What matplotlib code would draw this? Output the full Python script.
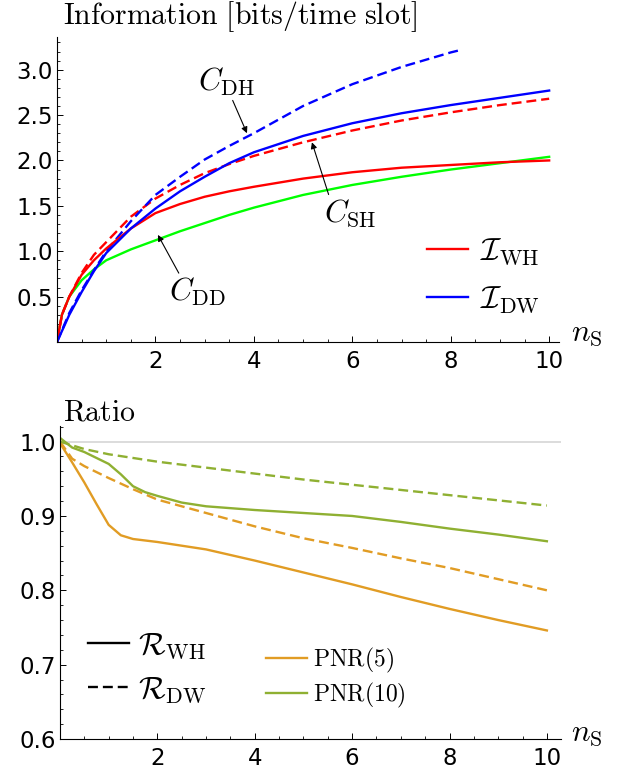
import matplotlib
matplotlib.use("Agg")
import matplotlib.pyplot as plt
from matplotlib.lines import Line2D
from matplotlib.ticker import MultipleLocator, FixedLocator

plt.rcParams['mathtext.fontset'] = 'cm'

# ---------------- data: top panel ----------------
x_cdh = [0, 0.25, 0.5, 0.75, 1, 1.5, 2, 2.5, 3, 3.5, 4, 5, 6, 7, 8, 8.15]
y_cdh = [0, 0.32, 0.57, 0.79, 1.0, 1.33, 1.62, 1.82, 2.01, 2.16, 2.30, 2.60, 2.84, 3.03, 3.19, 3.21]

x_idw = [0, 0.25, 0.5, 0.75, 1, 1.5, 2, 2.5, 3, 3.5, 4, 5, 6, 7, 8, 9, 10]
y_idw = [0, 0.30, 0.55, 0.78, 0.98, 1.25, 1.47, 1.66, 1.82, 1.97, 2.09, 2.27, 2.41, 2.52, 2.61, 2.69, 2.77]

x_csh = [0, 0.1, 0.25, 0.5, 0.75, 1, 1.5, 2, 2.5, 3, 3.5, 4, 5, 6, 7, 8, 9, 10]
y_csh = [0, 0.30, 0.50, 0.76, 0.96, 1.10, 1.38, 1.58, 1.73, 1.86, 1.96, 2.05, 2.20, 2.33, 2.44, 2.53, 2.61, 2.68]

x_iwh = [0, 0.1, 0.25, 0.5, 0.75, 1, 1.5, 2, 2.5, 3, 3.5, 4, 5, 6, 7, 8, 9, 10]
y_iwh = [0, 0.30, 0.50, 0.74, 0.90, 1.03, 1.25, 1.42, 1.52, 1.60, 1.66, 1.71, 1.80, 1.87, 1.92, 1.95, 1.98, 2.00]

x_cdd = [0, 0.1, 0.25, 0.5, 0.75, 1, 1.5, 2, 2.5, 3, 3.5, 4, 5, 6, 7, 8, 9, 10]
y_cdd = [0, 0.30, 0.50, 0.68, 0.80, 0.90, 1.02, 1.12, 1.22, 1.31, 1.40, 1.48, 1.62, 1.73, 1.82, 1.90, 1.97, 2.04]

# ---------------- data: bottom panel ----------------
x_p5_wh = [0, 0.25, 0.5, 0.75, 1, 1.25, 1.5, 2, 3, 4, 5, 6, 7, 8, 9, 10]
y_p5_wh = [0.998, 0.972, 0.945, 0.916, 0.888, 0.874, 0.869, 0.865, 0.855, 0.840, 0.824, 0.808, 0.791, 0.775, 0.760, 0.746]

x_p5_dw = [0, 0.25, 0.5, 1, 1.5, 2, 3, 4, 5, 6, 7, 8, 9, 10]
y_p5_dw = [1.0, 0.977, 0.967, 0.951, 0.936, 0.922, 0.904, 0.886, 0.870, 0.857, 0.843, 0.830, 0.815, 0.800]

x_p10_wh = [0, 0.25, 0.5, 0.75, 1, 1.25, 1.5, 1.75, 2, 2.5, 3, 4, 5, 6, 7, 8, 9, 10]
y_p10_wh = [1.005, 0.992, 0.986, 0.978, 0.970, 0.956, 0.940, 0.932, 0.927, 0.918, 0.913, 0.908, 0.904, 0.900, 0.892, 0.883, 0.875, 0.866]

x_p10_dw = [0, 0.5, 1, 2, 3, 4, 5, 6, 7, 8, 9, 10]
y_p10_dw = [1.0, 0.990, 0.983, 0.973, 0.965, 0.957, 0.949, 0.942, 0.935, 0.928, 0.921, 0.914]

top_xticks = [2, 4, 6, 8, 10]
top_yticks = [0.5, 1.0, 1.5, 2.0, 2.5, 3.0]
bot_xticks = [2, 4, 6, 8, 10]
bot_yticks = [0.6, 0.7, 0.8, 0.9, 1.0]

ORANGE = '#E19C24'
GREEN = '#8FB032'
W, H = 618, 772
LW = 1.7
DASH = (4.2, 2.1)
FS_TXT = 21.5
FS_SUB = 22.5

fig = plt.figure(figsize=(W / 100, H / 100), dpi=100)


def px_axes(left, right, bottom, top):
    return fig.add_axes([left / W, 1 - bottom / H, (right - left) / W, (bottom - top) / H])


def style(ax):
    for s in ['top', 'right']:
        ax.spines[s].set_visible(False)
    for s in ['left', 'bottom']:
        ax.spines[s].set_linewidth(0.8)
    ax.tick_params(which='major', direction='in', length=4.5, width=0.7, labelsize=16.5)
    ax.tick_params(which='minor', direction='in', length=2.3, width=0.6)
    ax.tick_params(axis='x', which='major', pad=6)
    ax.tick_params(axis='y', which='major', pad=3)


# ---------------- top panel ----------------
ax1 = px_axes(57, 559, 342, 37)
ax1.set_xlim(0, 10.2)
ax1.set_ylim(0, 3.36)
style(ax1)
ax1.xaxis.set_major_locator(FixedLocator(top_xticks))
ax1.yaxis.set_major_locator(FixedLocator(top_yticks))
ax1.xaxis.set_minor_locator(MultipleLocator(0.5))
ax1.yaxis.set_minor_locator(MultipleLocator(0.1))
ax1.set_yticklabels([f'{v:.1f}' for v in top_yticks])
ax1.set_xticklabels([str(v) for v in top_xticks])

ax1.plot(x_cdd, y_cdd, color='#00FF00', lw=LW)
ax1.plot(x_csh, y_csh, color='#FF0000', lw=LW, dashes=DASH)
ax1.plot(x_cdh, y_cdh, color='#0000FF', lw=LW, dashes=DASH)
ax1.plot(x_iwh, y_iwh, color='#FF0000', lw=LW, label=r'$\mathcal{I}_{\mathrm{WH}}$')
ax1.plot(x_idw, y_idw, color='#0000FF', lw=LW, label=r'$\mathcal{I}_{\mathrm{DW}}$')

arr = dict(arrowstyle='-|>', color='black', lw=0.8, mutation_scale=9, shrinkA=0, shrinkB=0)
ax1.annotate(r'$C_{\mathrm{DH}}$', xy=(3.86, 2.30), xytext=(3.43, 2.87), fontsize=FS_SUB,
             ha='center', va='center', arrowprops=dict(arr, relpos=(0.6, 0.0)))
ax1.annotate(r'$C_{\mathrm{SH}}$', xy=(5.18, 2.20), xytext=(5.96, 1.42), fontsize=FS_SUB,
             ha='center', va='center', arrowprops=dict(arr, relpos=(0.1, 1.0)))
ax1.annotate(r'$C_{\mathrm{DD}}$', xy=(2.05, 1.18), xytext=(2.85, 0.55), fontsize=FS_SUB,
             ha='center', va='center', arrowprops=dict(arr, relpos=(0.2, 1.0)))

ax1.legend(loc='center left', bbox_to_anchor=(427 / W, 1 - 276 / H), bbox_transform=fig.transFigure,
           frameon=False, fontsize=FS_SUB, handlelength=1.3, handletextpad=0.4, labelspacing=0.55,
           borderpad=0, borderaxespad=0)

fig.text(63 / W, 1 - 17 / H, r'$\mathrm{Information\ [bits/time\ slot]}$', fontsize=FS_TXT,
         ha='left', va='center')
fig.text(571 / W, 1 - 333 / H, r'$n_{\mathrm{S}}$', fontsize=FS_SUB, ha='left', va='center')

# ---------------- bottom panel ----------------
ax2 = px_axes(60, 561, 739, 426)
ax2.set_xlim(0, 10.29)
ax2.set_ylim(0.6, 1.021)
style(ax2)
ax2.xaxis.set_major_locator(FixedLocator(bot_xticks))
ax2.yaxis.set_major_locator(FixedLocator(bot_yticks))
ax2.xaxis.set_minor_locator(MultipleLocator(0.5))
ax2.yaxis.set_minor_locator(MultipleLocator(0.02))
ax2.set_yticklabels([f'{v:.1f}' for v in bot_yticks])
ax2.set_xticklabels([str(v) for v in bot_xticks])

ax2.axhline(1.0, color='#D9D9D9', lw=1.3, zorder=0)
ax2.plot(x_p5_dw, y_p5_dw, color=ORANGE, lw=LW, dashes=DASH)
ax2.plot(x_p10_dw, y_p10_dw, color=GREEN, lw=LW, dashes=DASH)
ax2.plot(x_p5_wh, y_p5_wh, color=ORANGE, lw=LW)
ax2.plot(x_p10_wh, y_p10_wh, color=GREEN, lw=LW)

style_handles = [Line2D([], [], color='black', lw=LW),
                 Line2D([], [], color='black', lw=LW, dashes=DASH)]
leg1 = ax2.legend(style_handles, [r'$\mathcal{R}_{\mathrm{WH}}$', r'$\mathcal{R}_{\mathrm{DW}}$'],
                  loc='center left', bbox_to_anchor=(88 / W, 1 - 668 / H),
                  bbox_transform=fig.transFigure, frameon=False, fontsize=FS_SUB,
                  handlelength=1.3, handletextpad=0.3, labelspacing=0.45,
                  borderpad=0, borderaxespad=0)
ax2.add_artist(leg1)
color_handles = [Line2D([], [], color=ORANGE, lw=LW), Line2D([], [], color=GREEN, lw=LW)]
ax2.legend(color_handles, [r'$\mathrm{PNR}(5)$', r'$\mathrm{PNR}(10)$'],
           loc='center left', bbox_to_anchor=(266 / W, 1 - 678 / H),
           bbox_transform=fig.transFigure, frameon=False, fontsize=17,
           handlelength=1.74, handletextpad=0.25, labelspacing=0.25,
           borderpad=0, borderaxespad=0)

fig.text(63 / W, 1 - 412 / H, r'$\mathrm{Ratio}$', fontsize=FS_TXT, ha='left', va='center')
fig.text(571 / W, 1 - 733 / H, r'$n_{\mathrm{S}}$', fontsize=FS_SUB, ha='left', va='center')

fig.savefig('out.png', dpi=100)
